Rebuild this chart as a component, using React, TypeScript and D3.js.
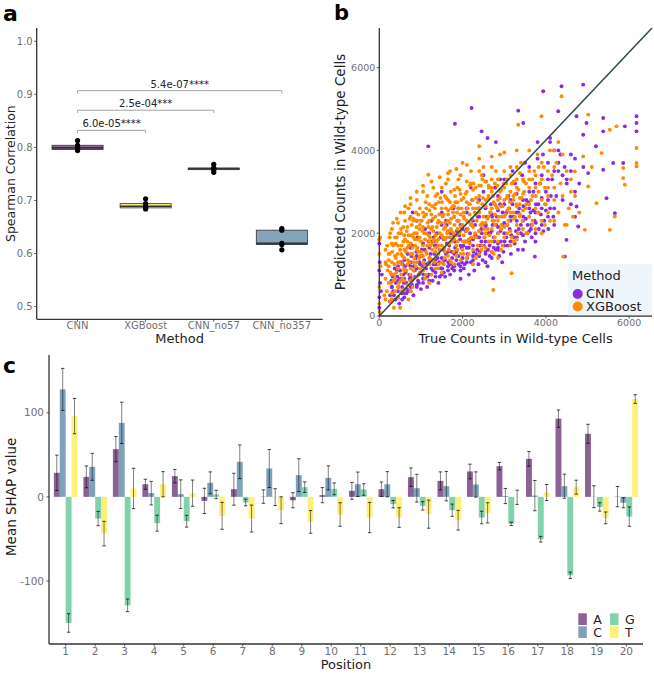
import React from "react";
import * as d3 from "d3";

// ---------- Panel a data ----------
const methods = ["CNN", "XGBoost", "CNN_no57", "CNN_no357"];
const cnnRuns = [0.813, 0.804, 0.799, 0.796, 0.794];
const xgbRuns = [0.703, 0.694, 0.689, 0.686, 0.684];
const no57Runs = [0.768, 0.761, 0.76, 0.758, 0.753];
const no357Runs = [0.647, 0.644, 0.619, 0.617, 0.607];
const methodColors = ["#440154", "#fde725", "#35b779", "#31688e"];
const corrTicks = [0.5, 0.6, 0.7, 0.8, 0.9, 1.0];
const comparisons = [
  { from: "CNN", to: "XGBoost", label: "6.0e-05****", level: 0.832 },
  { from: "CNN", to: "CNN_no57", label: "2.5e-04***", level: 0.87 },
  { from: "CNN", to: "CNN_no357", label: "5.4e-07****", level: 0.907 },
];

// ---------- Panel b data ----------
const countTicks = [0, 2000, 4000, 6000];
const cnnPoints: [number, number][] = [
  [250,350],[300,700],[320,950],[350,500],[400,800],[420,1100],[450,600],[480,300],[500,900],[520,1300],
  [550,700],[580,1000],[600,450],[620,1200],[650,800],[680,1500],[700,600],[720,1000],[750,1300],[780,850],
  [800,1700],[820,500],[850,1100],[880,1400],[900,750],[920,1900],[950,1000],[980,1250],[1000,650],[1020,1600],
  [1050,900],[1080,1350],[1100,2100],[1120,1150],[1150,700],[1180,1800],[1200,1000],[1230,1500],[1250,2300],[1280,850],
  [1300,1250],[1330,1700],[1350,1050],[1380,2000],[1400,1400],[1420,800],[1450,1600],[1480,1150],[1500,2500],[1520,1300],
  [1550,1850],[1580,950],[1600,1500],[1620,2200],[1650,1200],[1680,1700],[1700,1000],[1720,2000],[1750,1400],[1780,2600],
  [1800,1100],[1820,1800],[1850,1550],[1880,2300],[1900,1250],[1920,1950],[1950,900],[1980,1650],[2000,2100],[2000,1400],
  [2030,1150],[2060,1800],[2100,2500],[2120,1500],[2150,1000],[2180,2000],[2200,1300],[2230,2800],[2250,1700],[2280,1100],
  [2300,2200],[2330,1500],[2350,1900],[2380,1250],[2400,2600],[2420,1700],[2450,2100],[2480,1350],[2500,3000],[2520,1900],
  [2550,1500],[2580,2400],[2600,1200],[2620,2000],[2650,1700],[2680,2700],[2700,1400],[2720,2200],[2750,1900],[2780,3100],
  [2800,1600],[2820,2400],[2850,2000],[2880,1450],[2900,2700],[2920,1800],[2950,2200],[2980,1550],[3000,3300],[3000,2000],
  [3050,2500],[3080,1700],[3100,2900],[3130,2100],[3160,1500],[3200,2700],[3230,1900],[3260,3200],[3300,2300],[3330,1600],
  [3360,2600],[3400,2000],[3430,3400],[3460,2400],[3500,1800],[3530,2800],[3560,2200],[3600,3600],[3630,2500],[3660,1900],
  [3700,3000],[3730,2300],[3760,2700],[3800,3800],[3830,2100],[3860,3200],[3900,2600],[3930,3900],[3960,2300],[4000,3000],
  [4050,3700],[4100,2600],[4150,3300],[4200,4000],[4250,2900],[4300,3500],[4350,3900],[4400,2800],[4450,3600],[4500,3200],
  [1550,1050],[1700,1250],[1850,1350],[2050,1250],[2150,1650],[2350,1600],[2450,1800],[2550,1300],[2750,1650],[2850,1750],
  [3050,1900],[3150,2300],[3250,1750],[3350,2100],[3450,1600],[3550,2000],[3650,2200],[3750,1800],[2950,1300],[2650,1450],
  [1950,1100],[2250,1450],[1750,1150],[1450,950],[1250,1150],[1150,950],[950,800],[750,700],[650,550],[550,400],
  [1300,1900],[1600,2300],[1900,2600],[2200,3100],[2500,3400],[2900,3300],[3200,3500],[3500,3700],[3800,4200],[4100,4300],
  [4300,4000],[4600,3500],[4400,3400],[4700,3800],[4800,3200],[4600,2700],[4900,3600],[4700,2400],
  [3936,5427],[4376,5548],[4896,5588],[2216,5024],[3336,4960],[1816,4645],[3456,4661],[2456,4460],[1176,4097],[4296,4944],
  [4736,4823],[4976,4661],[5376,4782],[6176,4823],[6176,4661],[6176,4460],[5896,4580],[4896,4379],[5376,4460],[5616,3694],
  [5856,3694],[5376,3532],[5016,3452],[5456,2847],[5656,2484],[4736,2645],[4776,2161],[4496,1839],[4456,1435],[3736,1435],
  [2736,911],[4600,3900],[4500,3300],[4700,3000],[5200,4100],[4300,3700],[4100,4200],[1500,3000],[900,2300],[800,2500],
  [2600,4300],[2800,4200],
  [0,200],[0,450],[20,800],[0,1100],[10,1300],[0,1750],[40,600],[60,1000],
  [260,500],[290,850],[330,600],[370,1150],[390,400],[430,950],[460,700],[500,1100],[530,550],[560,1250],
  [590,800],[630,1050],[660,650],[700,1250],[730,900],[770,1450],[790,750],[830,1200],[860,950],[890,1550],
  [930,850],[960,1300],[990,1050],[1030,1450],[1060,1000],[1090,1600],[1130,1250],[1170,1000],[1210,1400],[1240,1800],
  [1290,1100],[1320,1500],[1360,1250],[1400,1700],[1440,1300],[1470,1900],[1510,1150],[1540,1600],[1580,1350],[1620,1750],
  [1660,1300],[1700,1900],[1740,1550],[1780,1200],[1820,1650],[1860,2050],[1900,1450],[1940,1850],[1980,1300],[2020,1700],
  [2070,2050],[2110,1400],[2160,1800],[2210,2200],[2260,1550],[2310,1950],[2360,2400],[2410,1550],[2460,2000],[2510,1700],
  [2560,2200],[2610,1600],[2660,2000],[2710,2400],[2760,1800],[2810,2200],[2860,1600],[2910,2050],[2960,2500],[3010,1800],
  [3070,2200],[3120,2600],[3170,1950],[3220,2400],[3280,2050],[3340,2500],[3400,2200],[3460,2650],[3520,2350],[3580,2750],
  [3640,2100],[3700,2550],[3760,2250],[3820,2700],[3880,2450],[3940,2050],[4000,2550],[4060,2100],[4120,2900],[4180,2400],
];
// extra CNN points in the dense core, listed per true-count column: [true, [predicted...]]
const cnnCoreColumns: [number, number[]][] = [
  [300, [400, 700, 1000]], [450, [450, 850, 1200]], [600, [550, 900, 1350]], [750, [600, 950, 1200, 1650]],
  [900, [700, 1150, 1450]], [1050, [800, 1200, 1750]], [1200, [850, 1300, 1650, 2000]], [1350, [950, 1350, 1800]],
  [1500, [1000, 1400, 1900, 2200]], [1650, [1100, 1550, 2050]], [1800, [1200, 1500, 1950, 2400]], [1950, [1200, 1700, 2200]],
  [2100, [1300, 1650, 2100, 2600]], [2250, [1350, 1850, 2300]], [2400, [1450, 1900, 2400, 2800]], [2550, [1550, 1800, 2150, 2600]],
  [2700, [1550, 2050, 2450]], [2850, [1650, 2150, 2550, 2900]], [3000, [1700, 2250, 2700]], [3150, [1800, 2400, 2800]],
  [3300, [1900, 2500, 2950]], [3450, [1950, 2300, 2800]], [3600, [2050, 2600, 3000]], [3750, [2000, 2500, 3200]],
  [3900, [2200, 2850, 3400]], [4050, [2400, 2800, 3300]], [4200, [2200, 2600, 3500]],
];
const xgbPoints: [number, number][] = [
  [200,1100],[250,1500],[280,800],[300,1300],[330,1700],[350,1000],[380,600],[400,1400],[420,1900],[450,1150],
  [470,800],[500,1600],[520,2100],[540,1250],[560,900],[580,1800],[600,1400],[620,2300],[650,1100],[670,1650],
  [700,1950],[720,1300],[740,850],[760,1750],[780,2200],[800,1500],[820,1100],[840,2000],[860,1700],[880,2500],
  [900,1300],[920,1850],[940,1550],[960,2100],[980,1150],[1000,1800],[300,400],[450,450],[600,650],[700,400],
  [350,200],[500,200],[800,700],[250,1900],[150,900],[180,600],
  [1020,2300],[1050,1450],[1080,2000],[1100,1200],[1130,2600],[1150,1700],[1180,2150],[1200,1400],[1220,1900],[1250,2450],
  [1270,1600],[1300,2050],[1320,1300],[1350,2700],[1370,1800],[1400,2250],[1420,1500],[1450,2000],[1470,2850],[1500,1700],
  [1520,2400],[1550,2100],[1570,1400],[1600,2600],[1620,1900],[1650,2300],[1670,1600],[1700,2750],[1720,2100],[1750,1800],
  [1770,2500],[1800,2000],[1820,2900],[1850,1700],[1870,2300],[1900,2600],[1920,2000],[1950,1500],[1970,2800],[2000,2200],
  [1100,900],[1250,1000],[1400,1150],[1550,1250],[1700,1350],[1850,1450],[2000,1600],[1150,2900],[1300,3100],[1600,3200],
  [1900,3300],
  [2030,2500],[2060,1800],[2100,3000],[2130,2100],[2160,2700],[2200,1900],[2230,2350],[2260,3200],[2300,2000],[2330,2600],
  [2360,1700],[2400,2900],[2430,2200],[2460,3400],[2500,2400],[2530,1900],[2560,2800],[2600,2100],[2630,3100],[2660,2500],
  [2700,1800],[2730,2900],[2760,2300],[2800,3500],[2830,2600],[2860,2000],[2900,3000],[2930,2400],[2960,1700],[3000,2800],
  [2150,1500],[2450,1600],[2750,1500],[2200,3500],[2500,3600],[2700,3300],
  [3050,3200],[3080,2200],[3110,2600],[3150,3600],[3180,1900],[3220,2900],[3260,2400],[3300,3300],[3330,2000],[3370,2700],
  [3400,3700],[3440,2300],[3480,3000],[3520,2600],[3560,2000],[3600,3300],[3640,2800],[3680,2300],[3720,3500],[3760,2900],
  [3800,2500],[3850,3200],[3900,2000],[3950,3600],[4000,2700],[4050,3100],[4100,2300],[4150,3400],[4200,2800],[4250,3700],
  [4300,2500],[4350,3200],[4400,2900],[4450,2200],[4500,3500],[4550,2600],[4600,3000],[4650,2400],[4400,3900],[4200,4000],
  [3800,3900],[3600,4000],
  [4376,5306],[5016,4863],[3896,4823],[3336,4621],[5696,4580],[5536,4500],[6176,4056],[6176,3694],[6176,3613],[5856,3573],
  [5856,3331],[5896,3169],[5336,3935],[4896,3855],[4696,3492],[5016,3129],[5216,2726],[5656,2403],[5536,2081],[4936,2081],
  [4416,1435],[3176,1032],[2736,629],[1176,3412],[4700,2900],[4600,3300],[4800,2500],[4500,2200],[5100,3600],[2400,4100],
  [2900,3900],[2000,3700],[1700,3500],[700,2600],[3300,4000],[4100,4000],[4300,4200],
  [0,300],[0,700],[0,1500],[20,1900],[0,1850],[30,1200],[10,100],
  [230,1350],[270,1050],[310,1550],[340,850],[365,1250],[395,1750],[410,1050],[440,1500],[465,2000],[490,1300],
  [515,850],[535,1700],[555,1450],[575,2150],[595,1150],[615,1850],[640,1550],[660,2050],[685,1350],[705,1700],
  [730,2350],[755,1150],[770,1950],[795,1650],[815,2300],[835,1400],[855,1850],[875,1200],[895,2150],[915,1650],
  [935,2450],[955,1400],[970,1900],[990,2300],[1010,1550],[1035,2050],[1060,1300],[1075,2400],[1095,1850],[1115,2750],
  [1140,1500],[1160,2250],[1185,1950],[1205,2550],[1230,1700],[1245,2100],[1265,1350],[1290,2350],[1310,1850],[1335,2600],
  [1355,1650],[1380,2150],[1395,2950],[1415,1850],[1440,2450],[1460,1600],[1485,2250],[1505,2750],[1530,1900],[1545,2450],
  [1565,1650],[1590,2150],[1610,2850],[1630,2000],[1655,2550],[1675,1750],[1695,2250],[1715,3000],[1740,2050],[1760,2650],
  [1785,1550],[1805,2200],[1825,2750],[1845,1950],[1865,2500],[1890,1800],[1910,2300],[1930,3050],[1955,2150],[1975,2600],
  [2010,1800],[2040,2350],[2070,2950],[2090,2050],[2120,2600],[2145,1850],[2170,2450],[2195,3200],[2215,2200],[2245,2800],
  [2270,1900],[2290,2500],[2315,3100],[2340,2300],[2365,2750],[2390,2050],[2415,2600],[2440,3150],[2470,2250],[2490,2850],
  [2520,2100],[2545,2650],[2570,3250],[2595,2350],[2620,2900],[2645,1950],[2670,2500],[2695,3100],[2720,2300],[2745,2750],
  [2780,2200],[2810,2650],[2840,3150],[2870,2400],[2900,2850],[2930,2200],[2960,2650],[2990,3200],[3030,2450],[3060,2850],
  [3100,2300],[3140,2750],[3180,3200],[3220,2500],[3260,2950],[3300,2650],[3340,3050],[3380,2450],[3420,2850],[3470,3250],
  [190,1700],[260,2000],[330,2250],[420,2350],[510,2500],[620,2650],[750,2850],[900,3000],[1050,3150],[1250,3250],
  [1450,3350],[1650,3450],[1850,3550],[2100,3650],[2400,3800],[2700,3850],[3000,3950],[160,1250],[120,500],[260,350],
];
// extra XGBoost points in the dense core, listed per true-count column
const xgbCoreColumns: [number, number[]][] = [
  [150, [400, 1300, 1600]], [225, [800, 1200, 1500]], [300, [550, 1000, 2100, 1750]], [375, [900, 1450, 1900]],
  [450, [700, 1300, 1700, 2250]], [525, [600, 1000, 1500, 2000]], [600, [850, 1100, 1600, 1950, 2500]],
  [675, [750, 1250, 1800, 2150]], [750, [1000, 1500, 2400, 2700, 600]], [825, [900, 1300, 1900, 2350]],
  [900, [950, 1600, 2000, 2300, 2800]], [975, [1050, 1450, 2200, 2600]], [1050, [1100, 1700, 2500, 2150, 3000]],
  [1125, [1000, 1550, 2000, 2450]], [1200, [1250, 1800, 2700, 2300, 800]], [1275, [1350, 1750, 2150, 2650]],
  [1350, [1150, 1550, 2400, 2900, 1950]], [1425, [1250, 1700, 2300, 2750]], [1500, [1300, 1950, 2600, 3100, 1050]],
  [1575, [1550, 1850, 2250, 2900]], [1650, [1450, 2050, 2800, 2450, 3300]], [1725, [1300, 1900, 2350, 2600]],
  [1800, [1250, 1850, 2400, 3050, 2650]], [1875, [1600, 2100, 2750, 3100]], [1950, [1350, 2050, 2450, 2950, 3400]],
  [2025, [1500, 1950, 2400, 2850]], [2100, [1400, 1800, 2300, 2750, 3250]], [2175, [1750, 2250, 2700, 3150]],
  [2250, [1600, 2150, 2600, 3050, 1250]], [2325, [1400, 1900, 2450, 2850]], [2400, [1500, 2050, 2500, 3150, 3500]],
  [2475, [1700, 2200, 2700, 3300]], [2550, [1650, 2250, 2650, 3250, 2000]], [2625, [1800, 2400, 2850, 3150]],
  [2700, [1550, 2100, 2600, 3000, 3600]], [2775, [1900, 2450, 2700, 3200]], [2850, [1800, 2300, 2800, 3300, 1400]],
  [2925, [1600, 2100, 2650, 3050]], [3000, [1900, 2400, 3100, 3500, 2150]], [3075, [2000, 2550, 2900, 3300]],
  [3150, [1700, 2050, 2500, 3000, 3400]], [3225, [1800, 2350, 2800, 3250]], [3300, [2200, 2700, 3100, 3600, 1850]],
  [3375, [2400, 2850, 3450]], [3450, [2100, 2550, 2950, 3300]], [3525, [2000, 2700, 3200]], [3600, [2400, 2700, 3100, 3500]],
  [3675, [2200, 2900, 3300]], [3750, [2100, 2600, 3100, 3400]], [3825, [2500, 3000, 3600]], [3900, [2300, 2800, 3300, 3700]],
  [3975, [2200, 2700, 3100]], [4050, [2500, 2900, 3500]], [4200, [2300, 3100, 3600]],
];
const scatterColors = { CNN: "#8a2be2", XGBoost: "#ff8c00" };

// ---------- Panel c data ----------
const positions = ["1","2","3","4","5","6","7","8","9","10","11","12","13","14","15","16","17","18","19","20"];
const bases = ["A", "C", "G", "T"];
const shapA = [28.6, 23.8, 56.7, 15, 24.6, -4.8, 9.1, 0.3, -4, 2, 7.1, 9.1, 23.4, 19, 30.2, 36.5, 45.2, 93, 75, 0.3];
const errA = [21, 13, 15, 6, 8, 15, 19, 8, 9, 9, 10, 8.5, 11, 10.7, 8.7, 4.4, 8.7, 10.3, 11.3, 12];
const shapC = [127.8, 35.7, 88, 4.4, 3.2, 16.7, 41.7, 33.7, 25.8, 22.6, 15, 15, 10.3, 12.7, 14.7, 1, 1.5, 12.7, 0.2, -7];
const errC = [25, 16, 24.6, 14, 17, 13, 20, 22.6, 19.5, 14.3, 14.5, 15, 16.5, 17.5, 15, 9, 18, 14.3, 13, 6];
const shapG = [-150, -25.8, -129, -31.3, -29, 2.8, -6.7, -0.3, 11.5, 9.5, 8.7, -8.7, -10.7, -15.9, -24.6, -32.1, -50.4, -93.3, -12, -23.5];
const errG = [11, 8.5, 7.5, 9.5, 7, 5, 4, 10, 6.3, 7, 6.8, 4.4, 5, 7.3, 7.5, 2, 3.4, 3.8, 5, 11.5];
const shapT = [96, -43.7, 10, 15, 4.4, -22.6, -25.8, -15.9, -29.8, -21, -24.6, -24.6, -20.6, -27.8, -19, -0.5, 5.2, 11.5, -25, 116.3];
const errT = [21, 14.6, 24, 15, 15.6, 16, 16, 16, 13.5, 14, 18, 11.7, 16.7, 11.7, 12, 8.5, 9.5, 8.3, 7, 5.2];
const shapTicks = [-100, 0, 100];
const baseColors = ["#440154", "#31688e", "#35b779", "#fde725"];

const FONT = "DejaVu Sans, sans-serif";
const TICK_COLOR = "#707070";
const AXIS_COLOR = "#333";

function expandColumns(cols: [number, number[]][]): [number, number][] {
  return cols.flatMap(([tx, ys]) => ys.map((py) => [tx, py] as [number, number]));
}

function PanelA() {
  const runs = [cnnRuns, xgbRuns, no57Runs, no357Runs];
  const left = 36.7, right = 322.7, top = 28, bottom = 319.3;
  const step = (right - left) / 4.2;
  const x = d3.scalePoint<string>().domain(methods).range([left + 0.6 * step, right - 0.6 * step]);
  const y = d3.scaleLinear().domain([0.476, 1.025]).range([bottom, top]);
  const boxW = 0.75 * step;
  return (
    <g>
      <text x={3} y={21} fontFamily={FONT} fontWeight="bold" fontSize={22}>a</text>
      {methods.map((m, i) => {
        const vals = runs[i].slice().sort(d3.ascending);
        const q1 = d3.quantile(vals, 0.25)!;
        const med = d3.quantile(vals, 0.5)!;
        const q3 = d3.quantile(vals, 0.75)!;
        const iqr = q3 - q1;
        const lo = d3.min(vals.filter((v) => v >= q1 - 1.5 * iqr))!;
        const hi = d3.max(vals.filter((v) => v <= q3 + 1.5 * iqr))!;
        const cx = x(m)!;
        return (
          <g key={m}>
            <line x1={cx} x2={cx} y1={y(hi)} y2={y(q3)} stroke={AXIS_COLOR} strokeWidth={0.8} />
            <line x1={cx} x2={cx} y1={y(lo)} y2={y(q1)} stroke={AXIS_COLOR} strokeWidth={0.8} />
            <rect x={cx - boxW / 2} width={boxW} y={y(q3)} height={Math.max(y(q1) - y(q3), 0.5)}
              fill={methodColors[i]} fillOpacity={0.6} stroke={AXIS_COLOR} strokeWidth={0.8} />
            <line x1={cx - boxW / 2} x2={cx + boxW / 2} y1={y(med)} y2={y(med)} stroke={AXIS_COLOR} strokeWidth={1.6} />
            {runs[i].map((v, j) => (
              <circle key={j} cx={cx} cy={y(v)} r={2.6} fill="#000" />
            ))}
          </g>
        );
      })}
      {comparisons.map((c) => {
        const x1 = x(c.from)!, x2 = x(c.to)!, yy = y(c.level);
        return (
          <g key={c.label}>
            <path d={`M${x1},${yy + 2.8}V${yy}H${x2}V${yy + 2.8}`} fill="none" stroke="#999" strokeWidth={0.9} />
            <text x={(x1 + x2) / 2} y={yy - 3} textAnchor="middle" fontFamily={FONT} fontSize={10} fill="#222">{c.label}</text>
          </g>
        );
      })}
      <line x1={left} x2={left} y1={top} y2={bottom} stroke={AXIS_COLOR} strokeWidth={1.3} />
      <line x1={left} x2={right} y1={bottom} y2={bottom} stroke={AXIS_COLOR} strokeWidth={1.3} />
      {corrTicks.map((t) => (
        <g key={t}>
          <line x1={left - 2.5} x2={left} y1={y(t)} y2={y(t)} stroke={AXIS_COLOR} strokeWidth={0.8} />
          <text x={left - 4} y={y(t)} dy="0.35em" textAnchor="end" fontFamily={FONT} fontSize={10} fill={TICK_COLOR}>{t.toFixed(1)}</text>
        </g>
      ))}
      {methods.map((m) => (
        <g key={m}>
          <line x1={x(m)} x2={x(m)} y1={bottom} y2={bottom + 2.5} stroke={AXIS_COLOR} strokeWidth={0.8} />
          <text x={x(m)} y={bottom + 10} textAnchor="middle" fontFamily={FONT} fontSize={10} fill={TICK_COLOR}>{m}</text>
        </g>
      ))}
      <text x={(left + right) / 2} y={343} textAnchor="middle" fontFamily={FONT} fontSize={13} fill="#222">Method</text>
      <text transform={`translate(15,${(top + bottom) / 2}) rotate(-90)`} textAnchor="middle" fontFamily={FONT} fontSize={12.5} fill="#222">Spearman Correlation</text>
    </g>
  );
}

function PanelB() {
  const left = 379.3, right = 652, top = 28, bottom = 316;
  const x = d3.scaleLinear().domain([0, 6548]).range([left, right]);
  const y = d3.scaleLinear().domain([0, 6956]).range([bottom, top]);
  const cnnAll = cnnPoints.concat(expandColumns(cnnCoreColumns));
  const xgbAll = xgbPoints.concat(expandColumns(xgbCoreColumns));
  return (
    <g>
      <text x={334} y={20} fontFamily={FONT} fontWeight="bold" fontSize={21}>b</text>
      {cnnAll.map((p, i) => (
        <circle key={"c" + i} cx={x(p[0])} cy={y(p[1])} r={1.95} fill={scatterColors.CNN} />
      ))}
      {xgbAll.map((p, i) => (
        <circle key={"x" + i} cx={x(p[0])} cy={y(p[1])} r={1.95} fill={scatterColors.XGBoost} />
      ))}
      <line x1={x(0)} y1={y(0)} x2={x(6548)} y2={y(6956)} stroke="#2f4f4f" strokeWidth={1.6} />
      <line x1={left} x2={left} y1={top} y2={bottom} stroke={AXIS_COLOR} strokeWidth={1.3} />
      <line x1={left} x2={right} y1={bottom} y2={bottom} stroke={AXIS_COLOR} strokeWidth={1.3} />
      {countTicks.map((t) => (
        <g key={t}>
          <line x1={left - 2.5} x2={left} y1={y(t)} y2={y(t)} stroke={AXIS_COLOR} strokeWidth={0.8} />
          <text x={left - 4} y={y(t)} dy="0.35em" textAnchor="end" fontFamily={FONT} fontSize={9.5} fill={TICK_COLOR}>{t}</text>
          <line x1={x(t)} x2={x(t)} y1={bottom} y2={bottom + 2.5} stroke={AXIS_COLOR} strokeWidth={0.8} />
          <text x={x(t)} y={bottom + 10} textAnchor="middle" fontFamily={FONT} fontSize={9.5} fill={TICK_COLOR}>{t}</text>
        </g>
      ))}
      <text x={(left + right) / 2} y={343} textAnchor="middle" fontFamily={FONT} fontSize={13} fill="#222">True Counts in Wild-type Cells</text>
      <text transform={`translate(345,${(top + bottom) / 2}) rotate(-90)`} textAnchor="middle" fontFamily={FONT} fontSize={13.5} fill="#222">Predicted Counts in Wild-type Cells</text>
      <rect x={567.7} y={264} width={84.3} height={51.3} fill="#eef6fc" />
      <text x={572} y={280} fontFamily={FONT} fontSize={13} fill="#222">Method</text>
      <circle cx={577.7} cy={294} r={5} fill={scatterColors.CNN} />
      <text x={586} y={298} fontFamily={FONT} fontSize={13} fill="#222">CNN</text>
      <circle cx={577.7} cy={306.5} r={5} fill={scatterColors.XGBoost} />
      <text x={586} y={311} fontFamily={FONT} fontSize={13} fill="#222">XGBoost</text>
    </g>
  );
}

function PanelC() {
  const left = 49, right = 643, top = 355, bottom = 644;
  const x = d3.scaleBand<string>().domain(positions).range([left, right]).paddingInner(0.2).paddingOuter(0.165);
  const sub = d3.scaleBand<string>().domain(bases).range([0, x.bandwidth()]);
  const y = d3.scaleLinear().domain([-175, 168.7]).range([bottom, top]);
  const means = [shapA, shapC, shapG, shapT];
  const errs = [errA, errC, errG, errT];
  const capW = 3.4;
  return (
    <g>
      <text x={3} y={373} fontFamily={FONT} fontWeight="bold" fontSize={22}>c</text>
      {positions.map((p, i) => (
        <g key={p}>
          {bases.map((b, k) => {
            const v = means[k][i];
            const e = errs[k][i];
            const bx = x(p)! + sub(b)!;
            const cx = bx + sub.bandwidth() / 2;
            return (
              <g key={b}>
                <rect x={bx} width={sub.bandwidth()} y={Math.min(y(v), y(0))} height={Math.abs(y(v) - y(0))}
                  fill={baseColors[k]} fillOpacity={0.62} />
                <line x1={cx} x2={cx} y1={y(v - e)} y2={y(v + e)} stroke="#000" strokeOpacity={0.5} strokeWidth={1} />
                <line x1={cx - capW / 2} x2={cx + capW / 2} y1={y(v - e)} y2={y(v - e)} stroke="#000" strokeOpacity={0.8} strokeWidth={0.9} />
                <line x1={cx - capW / 2} x2={cx + capW / 2} y1={y(v + e)} y2={y(v + e)} stroke="#000" strokeOpacity={0.8} strokeWidth={0.9} />
              </g>
            );
          })}
        </g>
      ))}
      <line x1={left} x2={left} y1={top} y2={bottom} stroke={AXIS_COLOR} strokeWidth={1.3} />
      <line x1={left} x2={right} y1={bottom} y2={bottom} stroke={AXIS_COLOR} strokeWidth={1.3} />
      {shapTicks.map((t) => (
        <g key={t}>
          <line x1={left - 2.5} x2={left} y1={y(t)} y2={y(t)} stroke={AXIS_COLOR} strokeWidth={0.8} />
          <text x={left - 5} y={y(t)} dy="0.35em" textAnchor="end" fontFamily={FONT} fontSize={10.5} fill={TICK_COLOR}>{t}</text>
        </g>
      ))}
      {positions.map((p) => (
        <g key={p}>
          <line x1={x(p)! + x.bandwidth() / 2} x2={x(p)! + x.bandwidth() / 2} y1={bottom} y2={bottom + 2.5} stroke={AXIS_COLOR} strokeWidth={0.8} />
          <text x={x(p)! + x.bandwidth() / 2} y={bottom + 11} textAnchor="middle" fontFamily={FONT} fontSize={10.5} fill={TICK_COLOR}>{p}</text>
        </g>
      ))}
      <text x={(left + right) / 2} y={669} textAnchor="middle" fontFamily={FONT} fontSize={13} fill="#222">Position</text>
      <text transform={`translate(16,${y(0)}) rotate(-90)`} textAnchor="middle" fontFamily={FONT} fontSize={13.5} fill="#222">Mean SHAP value</text>
      {bases.map((b, k) => {
        const col = Math.floor(k / 2), row = k % 2;
        const lx = 578.3 + col * 31.7, ly = 613.3 + row * 13;
        return (
          <g key={b}>
            <rect x={lx} y={ly} width={8.5} height={11.7} fill={baseColors[k]} fillOpacity={0.62} />
            <text x={lx + 15} y={ly + 10.5} fontFamily={FONT} fontSize={12.5} fill="#222">{b}</text>
          </g>
        );
      })}
    </g>
  );
}

export default function App() {
  return (
    <svg width={654} height={673} style={{ position: "absolute", left: 0, top: 0, background: "#fff" }}>
      <PanelA />
      <PanelB />
      <PanelC />
    </svg>
  );
}
